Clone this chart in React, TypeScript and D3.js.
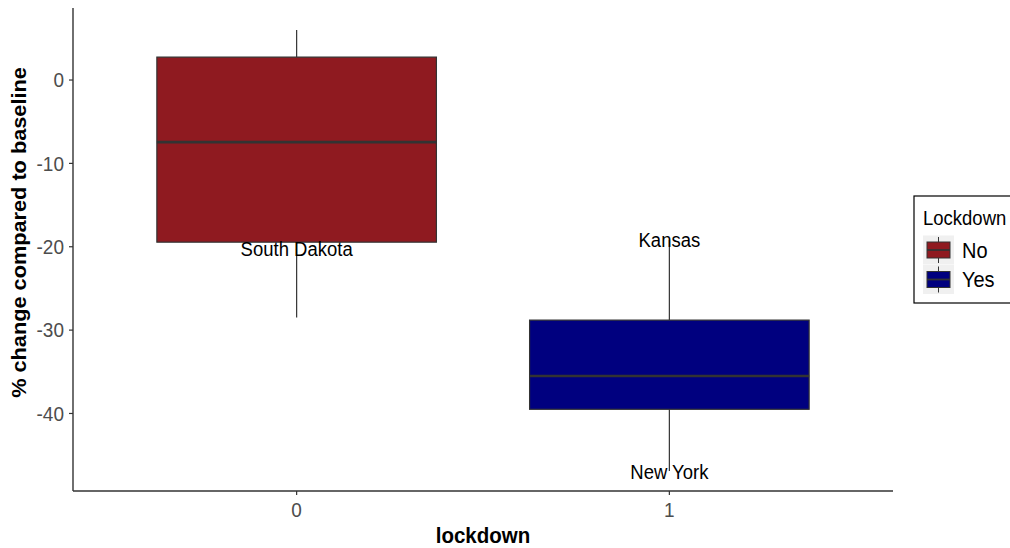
import React from "react";
import * as d3 from "d3";

const groups = ["0", "1"];
const legendLabels = ["No", "Yes"];
const colors = ["#8f1a20", "#00007f"];
const whiskerHigh = [6.0, -19.2];
const q3 = [2.75, -28.8];
const medians = [-7.45, -35.5];
const q1 = [-19.45, -39.5];
const whiskerLow = [-28.5, -46.9];
const labelNames = ["South Dakota", "Kansas", "New York"];
const labelGroups = ["0", "1", "1"];
const labelValues = [-20.2, -19.2, -47.0];
const yTicks = [0, -10, -20, -30, -40];

const W = 1010, H = 548;
const left = 73, right = 893, top = 8, bottom = 491;
const font = "'Liberation Sans', Arial, Helvetica, sans-serif";
const SY = 1.1;

function T(props: { x: number; y: number; size: number; anchor?: string; fill?: string; bold?: boolean; children: React.ReactNode }) {
  const { x, y, size, anchor = "start", fill = "#000", bold, children } = props;
  return (
    <text transform={`translate(${x},${y}) scale(1,${SY})`} dy="0.35em" textAnchor={anchor} fontSize={size} fill={fill} fontWeight={bold ? "bold" : "normal"}>
      {children}
    </text>
  );
}

export default function App() {
  const y = d3.scaleLinear().domain([-49.3, 8.64]).range([bottom, top]);
  const unit = (right - left) / 2.2; // ggplot discrete expansion of 0.6 each side
  const xc = (g: string) => left + unit * (0.6 + groups.indexOf(g));
  const bw = unit * 0.75;

  return (
    <svg width={W} height={H} style={{ position: "absolute", left: 0, top: 0, background: "#fff" }} fontFamily={font}>
      {groups.map((g, i) => {
        const cx = xc(g);
        return (
          <g key={g}>
            <line x1={cx} x2={cx} y1={y(whiskerHigh[i])} y2={y(q3[i])} stroke="#333" strokeWidth={1.2} />
            <line x1={cx} x2={cx} y1={y(q1[i])} y2={y(whiskerLow[i])} stroke="#333" strokeWidth={1.2} />
            <rect x={cx - bw / 2} y={y(q3[i])} width={bw} height={y(q1[i]) - y(q3[i])} fill={colors[i]} stroke="#333" strokeWidth={1.2} />
            <line x1={cx - bw / 2} x2={cx + bw / 2} y1={y(medians[i])} y2={y(medians[i])} stroke="#333" strokeWidth={2.6} />
          </g>
        );
      })}
      {labelNames.map((n, i) => (
        <T key={n} x={xc(labelGroups[i])} y={y(labelValues[i])} size={18.5} anchor="middle">{n}</T>
      ))}
      <line x1={left} x2={left} y1={top} y2={bottom} stroke="#333" strokeWidth={1.4} />
      <line x1={left} x2={right} y1={bottom} y2={bottom} stroke="#333" strokeWidth={1.4} />
      {yTicks.map((t) => (
        <g key={t}>
          <line x1={left - 4} x2={left} y1={y(t)} y2={y(t)} stroke="#333" strokeWidth={1.2} />
          <T x={left - 9} y={y(t)} size={19} anchor="end" fill="#4d4d4d">{t}</T>
        </g>
      ))}
      {groups.map((g) => (
        <g key={g}>
          <line x1={xc(g)} x2={xc(g)} y1={bottom} y2={bottom + 4} stroke="#333" strokeWidth={1.2} />
          <T x={xc(g)} y={bottom + 19} size={19} anchor="middle" fill="#4d4d4d">{g}</T>
        </g>
      ))}
      <T x={(left + right) / 2} y={535} size={20.5} anchor="middle" bold>lockdown</T>
      <text transform={`translate(19,${(top + bottom) / 2 - 17}) rotate(-90) scale(1.06,1)`} dy="0.35em" textAnchor="middle" fontSize={20.5} fontWeight="bold" fill="#000">% change compared to baseline</text>
      <rect x={914} y={196} width={110} height={107} fill="#fff" stroke="#000" strokeWidth={1.2} />
      <T x={923} y={218} size={18.5}>Lockdown</T>
      {legendLabels.map((l, i) => {
        const cy = 250 + i * 29.5;
        return (
          <g key={l}>
            <rect x={923} y={cy - 14.5} width={31} height={29} fill="#f0f0f0" />
            <line x1={938.5} x2={938.5} y1={cy - 13} y2={cy + 13} stroke="#333" strokeWidth={1} />
            <rect x={927} y={cy - 8} width={23} height={16} fill={colors[i]} stroke="#333" strokeWidth={1} />
            <line x1={927} x2={950} y1={cy} y2={cy} stroke="#333" strokeWidth={1.8} />
            <T x={962} y={cy} size={20}>{l}</T>
          </g>
        );
      })}
    </svg>
  );
}
